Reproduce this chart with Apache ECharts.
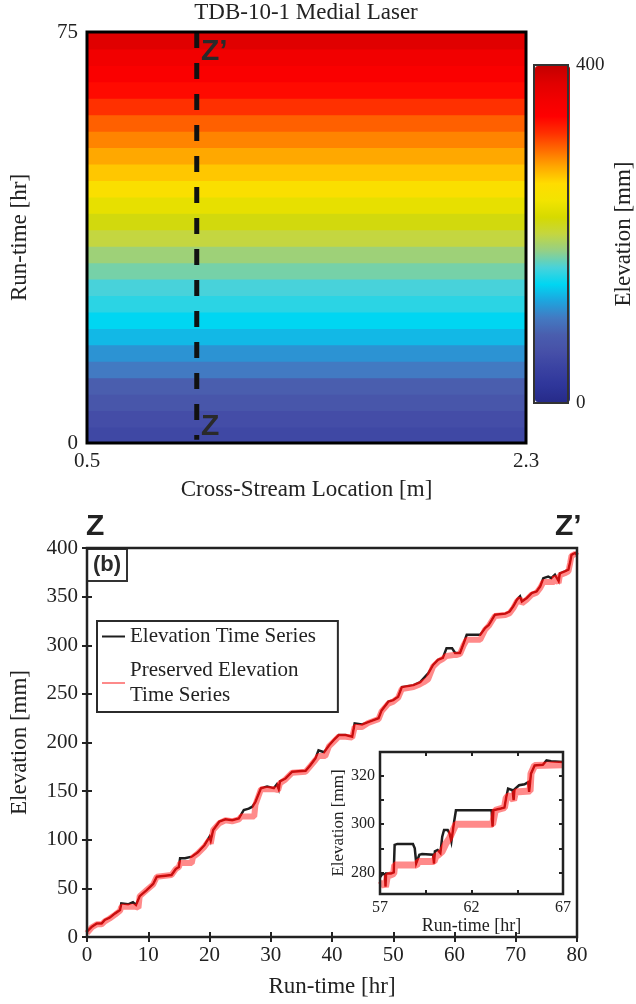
<!DOCTYPE html>
<html><head><meta charset="utf-8">
<script src="https://cdn.jsdelivr.net/npm/echarts@6/dist/echarts.min.js"></script>
<style>html,body{margin:0;padding:0;background:#fff}#c{width:636px;height:1004px}</style>
</head><body><div id="c"></div>
<script>
// ---------- Panel (a): elevation map (rows of run-time) ----------
const crossStreamRange = [0.5, 2.3];
const runTimeRange = [0, 75];
const heatRowStart = [0, 3, 6, 9, 12, 15, 18, 21, 24, 27, 30, 33, 36, 39, 42, 45, 48, 51, 54, 57, 60, 63, 66, 69, 72];
const heatRowElev  = [48, 56, 68, 80, 100, 112, 128, 140, 152, 160, 172, 184, 200, 216, 232, 252, 268, 280, 292, 304, 320, 336, 348, 360, 380];
const profileLocation = 0.95;           // Z - Z' line [m]
const profileTimeSpan = [75, 0.6];      // dashed line from top to near bottom [hr]
const colorbarLabels = [0, 400];

// ---------- Panel (b): elevation time series at Z - Z' ----------
const elevTime = [0, 0.8, 1.6, 2.4, 2.9, 3.7, 4.6, 5.4, 5.6, 6.7, 7.5, 8.0, 8.6, 8.9, 9.7, 10.8, 11.4, 13.8, 14.5, 15.0, 15.2, 16.0, 17.1, 18.1, 19.2, 20.0, 20.2, 20.6, 21.6, 22.6, 23.7, 24.8, 25.6, 26.4, 27.0, 27.5, 28.4, 29.4, 30.5, 31.0, 31.3, 31.5, 32.4, 33.5, 35.7, 36.5, 37.3, 37.8, 38.7, 39.5, 40.3, 41.1, 42.2, 43.3, 43.7, 44.9, 45.9, 47.6, 48.1, 49.2, 50.0, 50.8, 51.4, 53.3, 54.4, 55.7, 56.5, 57.3, 58.1, 58.7, 59.6, 59.85, 60.1, 60.4, 60.9, 61.5, 62.0, 64.2, 64.4, 65.0, 65.6, 66.1, 66.6, 68.3, 69.0, 69.6, 70.2, 70.7, 71.0, 71.8, 72.6, 73.4, 74.0, 74.5, 74.7, 75.3, 75.8, 76.4, 76.7, 77.0, 77.2, 78.0, 78.6, 78.9, 79.1, 79.7, 80];
const elevValue = [5.5, 10.6, 14, 14, 17.5, 19.9, 24.3, 27.8, 34.6, 33.6, 35.7, 33, 42, 43, 48, 54.5, 62, 63.8, 70, 72, 81, 81, 82.6, 87, 94.6, 103, 99, 110, 118.6, 121, 120, 122, 130.6, 132, 134, 139, 153, 154.6, 153, 157, 152, 160, 163, 170, 171, 177, 183.7, 192, 190, 197, 202.6, 207.7, 207.7, 206, 219.7, 218.6, 221, 225, 233, 242, 243.6, 247, 257, 259, 262, 271, 279.7, 285, 287, 297, 297, 296, 292, 290.7, 292, 302, 310.8, 310.8, 309, 317.7, 321, 326, 331.4, 332.5, 334.7, 340, 347, 350.3, 345, 348.6, 353.7, 355.4, 360.6, 369, 370.7, 370.7, 369, 372.6, 374, 366, 374, 376, 377.8, 386, 393, 394.9, 393];
const presTime = [0, 0.8, 1.6, 2.4, 2.9, 3.7, 4.6, 5.4, 5.6, 8.0, 8.4, 8.6, 8.9, 9.7, 10.8, 11.4, 13.8, 14.5, 15.0, 15.2, 17.1, 17.3, 18.1, 19.2, 20.0, 20.2, 20.6, 21.6, 22.6, 23.7, 24.8, 25.2, 27.3, 27.5, 28.4, 29.4, 30.5, 31.2, 31.5, 32.4, 33.5, 35.7, 36.5, 37.3, 37.8, 38.9, 39.5, 40.3, 41.1, 42.2, 43.3, 43.7, 44.9, 45.9, 47.6, 48.1, 49.2, 50.0, 50.8, 51.4, 53.3, 54.4, 55.0, 55.7, 56.5, 57.3, 58.1, 58.7, 59.85, 60.4, 60.9, 61.5, 62.0, 64.2, 64.4, 65.0, 65.6, 66.1, 66.6, 68.3, 69.0, 69.6, 70.2, 70.7, 71.0, 71.8, 72.6, 73.4, 74.0, 74.5, 76.3, 76.4, 76.7, 77.0, 77.2, 78.0, 78.6, 78.9, 79.1, 79.7, 80];
const presValue = [4, 10, 13, 13, 16, 19, 23, 27, 31, 31, 30, 42, 43, 48, 54, 62, 63.8, 70, 72, 76, 76, 82, 86, 93, 100, 96, 110, 117, 120, 119, 121, 124, 124, 136, 152, 152, 152, 151, 158, 162, 169, 170, 176, 182, 186, 186, 196, 201, 206, 206, 205, 216, 216, 220, 224, 232, 240, 242, 246, 255, 257, 260, 262, 265, 278, 283, 286, 289, 290, 290, 291, 300, 305.7, 305.7, 304, 316, 320, 325, 330, 331, 333, 338, 345, 348, 343, 347, 352, 354, 359, 365, 365, 371, 372, 364, 372, 374, 376, 385, 392, 394, 392];

// ---------- Inset (57 - 67 hr) ----------
const insetElevTime = [57.0, 57.15, 57.28, 57.3, 57.33, 57.6, 57.75, 57.8, 57.95, 58.8, 58.9, 58.98, 59.05, 59.15, 59.3, 59.9, 59.95, 60.0, 60.15, 60.3, 60.4, 60.5, 60.7, 60.8, 60.9, 61.05, 61.15, 63.1, 63.15, 63.2, 63.6, 63.8, 63.9, 64.0, 64.25, 64.3, 64.35, 64.6, 64.9, 65.1, 65.15, 65.25, 65.45, 65.9, 66.1, 66.35, 67.0];
const insetElevValue = [278, 279.5, 279, 274, 279.5, 279.5, 280, 291.4, 291.8, 291.8, 290, 283.8, 283, 287.3, 287.6, 287.3, 283.6, 288.7, 289.3, 288, 294.8, 297.6, 297.6, 296.2, 292.8, 301, 305.8, 305.8, 299, 305.8, 306.5, 306.9, 311.3, 314.8, 314.1, 310, 314.5, 316.2, 316.6, 317.5, 313.4, 321, 324.4, 324.7, 326.5, 326.2, 325.8];
const insetPresTime = [57.0, 57.2, 57.3, 57.4, 57.6, 57.75, 57.8, 59.0, 59.1, 59.95, 60.05, 60.2, 60.4, 60.6, 60.8, 61.0, 61.15, 63.15, 63.3, 63.8, 63.9, 64.1, 64.3, 64.4, 65.2, 65.25, 65.45, 67.0];
const insetPresValue = [274.5, 275.6, 274, 278.4, 279, 279.5, 283, 283, 284.5, 284.5, 286.6, 287.3, 288.7, 292, 294.2, 297.6, 300, 300, 305.8, 306.9, 311, 312, 310, 313.4, 313.8, 321, 324.4, 324.7];

const zip = (a, b) => a.map((v, i) => [v, b[i]]);
const heatCells = heatRowStart.map((t, i) => [crossStreamRange[0], crossStreamRange[1], t,
  i + 1 < heatRowStart.length ? heatRowStart[i + 1] : runTimeRange[1], heatRowElev[i]]);

const SERIF = '"Liberation Serif","DejaVu Serif",serif';
const SANS = '"Liberation Sans",Arial,sans-serif';
const INK = '#222';
const jet = ['#262b8a','#2f369a','#3a42a2','#4650a8','#4a5eae','#427ac2','#1ea4de','#00d6f2','#48d2da','#94d086',
             '#c4d640','#d6da00','#f2e400','#ffdc00','#ffa800','#ff6c00','#ff3000','#ff0000','#f20000','#e00000','#c40000'];
const BLACK_LINE = '#1e1e1e';
const PINK_LINE = 'rgba(250,0,0,0.46)';
const RED_GLOW = 'rgba(255,0,0,0.26)';

const chart = echarts.init(document.getElementById('c'), null, {renderer: 'canvas'});
const tickLbl = (size) => ({fontFamily: SERIF, fontSize: size, color: INK});

chart.setOption({
  animation: false,
  backgroundColor: '#fff',
  title: {text: 'TDB-10-1 Medial Laser', left: 306, textAlign: 'center', top: 1, padding: 0,
    textStyle: {fontFamily: SERIF, fontSize: 23, fontWeight: 'normal', color: INK}},
  grid: [
    {left: 86, top: 32, width: 440, height: 411, show: true, z: 10, borderColor: '#000', borderWidth: 3, backgroundColor: 'transparent'},
    {left: 86, top: 548, width: 491, height: 389, show: true, z: 10, borderColor: INK, borderWidth: 2.5, backgroundColor: 'transparent'},
    {left: 380, top: 752, width: 183, height: 142, show: true, z: 10, borderColor: INK, borderWidth: 2.5, backgroundColor: 'transparent'},
    {left: 534, top: 65, width: 37, height: 338, show: true, z: 10, borderColor: '#333', borderWidth: 2, backgroundColor: 'transparent'}
  ],
  xAxis: [
    {gridIndex: 0, type: 'value', min: crossStreamRange[0], max: crossStreamRange[1], splitLine: {show: false},
      axisLine: {show: false}, axisTick: {show: false},
      axisLabel: {customValues: crossStreamRange, margin: 8, ...tickLbl(21)},
      name: 'Cross-Stream Location [m]', nameLocation: 'middle', nameGap: 35,
      nameTextStyle: {fontFamily: SERIF, fontSize: 23, color: INK}},
    {gridIndex: 1, type: 'value', min: 0, max: 80, interval: 10, splitLine: {show: false},
      axisLine: {show: false}, axisTick: {inside: true, length: 5, lineStyle: {color: INK, width: 2}},
      axisLabel: {margin: 8, ...tickLbl(21)},
      name: 'Run-time [hr]', nameLocation: 'middle', nameGap: 38,
      nameTextStyle: {fontFamily: SERIF, fontSize: 23, color: INK}},
    {gridIndex: 1, type: 'value', position: 'top', min: 0, max: 80, interval: 10, splitLine: {show: false},
      axisLine: {show: false}, axisTick: {inside: true, length: 5, lineStyle: {color: INK, width: 2}},
      axisLabel: {show: false}},
    {gridIndex: 2, type: 'value', min: 57, max: 67, splitLine: {show: false},
      axisLine: {show: false}, axisTick: {inside: true, length: 4, customValues: [57, 59.5, 62, 64.5, 67], lineStyle: {color: INK, width: 2}},
      axisLabel: {customValues: [57, 62, 67], margin: 6, ...tickLbl(16)},
      name: 'Run-time [hr]', nameLocation: 'middle', nameGap: 22,
      nameTextStyle: {fontFamily: SERIF, fontSize: 18, color: INK}},
    {gridIndex: 2, type: 'value', position: 'top', min: 57, max: 67, splitLine: {show: false},
      axisLine: {show: false}, axisTick: {inside: true, length: 4, customValues: [57, 59.5, 62, 64.5, 67], lineStyle: {color: INK, width: 2}},
      axisLabel: {show: false}},
    {gridIndex: 3, type: 'value', min: 0, max: 1, show: false}
  ],
  yAxis: [
    {gridIndex: 0, type: 'value', min: runTimeRange[0], max: runTimeRange[1], splitLine: {show: false},
      axisLine: {show: false}, axisTick: {show: false},
      axisLabel: {customValues: runTimeRange, margin: 9, ...tickLbl(21)},
      name: 'Run-time [hr]', nameLocation: 'middle', nameGap: 56,
      nameTextStyle: {fontFamily: SERIF, fontSize: 23, color: INK}},
    {gridIndex: 1, type: 'value', min: 0, max: 400, interval: 50, splitLine: {show: false},
      axisLine: {show: false}, axisTick: {inside: true, length: 5, lineStyle: {color: INK, width: 2}},
      axisLabel: {margin: 9, ...tickLbl(21)},
      name: 'Elevation [mm]', nameLocation: 'middle', nameGap: 56,
      nameTextStyle: {fontFamily: SERIF, fontSize: 23, color: INK}},
    {gridIndex: 1, type: 'value', position: 'right', min: 0, max: 400, interval: 50, splitLine: {show: false},
      axisLine: {show: false}, axisTick: {inside: true, length: 5, lineStyle: {color: INK, width: 2}},
      axisLabel: {show: false}},
    {gridIndex: 2, type: 'value', min: 271, max: 330, splitLine: {show: false},
      axisLine: {show: false}, axisTick: {inside: true, length: 4, customValues: [280, 290, 300, 310, 320], lineStyle: {color: INK, width: 2}},
      axisLabel: {customValues: [280, 300, 320], margin: 5, ...tickLbl(16)},
      name: 'Elevation [mm]', nameLocation: 'middle', nameGap: 31,
      nameTextStyle: {fontFamily: SERIF, fontSize: 17, color: INK}},
    {gridIndex: 2, type: 'value', position: 'right', min: 271, max: 330, splitLine: {show: false},
      axisLine: {show: false}, axisTick: {inside: true, length: 4, customValues: [280, 290, 300, 310, 320], lineStyle: {color: INK, width: 2}},
      axisLabel: {show: false}},
    {gridIndex: 3, type: 'value', position: 'right', min: colorbarLabels[0], max: colorbarLabels[1], splitLine: {show: false},
      axisLine: {show: false}, axisTick: {show: false},
      axisLabel: {customValues: colorbarLabels, margin: 8, ...tickLbl(19)},
      name: 'Elevation [mm]', nameLocation: 'middle', nameGap: 44, nameRotate: 90,
      nameTextStyle: {fontFamily: SERIF, fontSize: 23, color: INK}}
  ],
  visualMap: {
    type: 'continuous', min: colorbarLabels[0], max: colorbarLabels[1], dimension: 4, seriesIndex: 0,
    calculable: false, show: true, left: 535, top: 66, itemWidth: 35, itemHeight: 336, padding: 0,
    textStyle: {fontSize: 0}, inRange: {color: jet}
  },
  legend: {
    data: ['Elevation Time Series', 'Preserved Elevation Time Series'],
    formatter: n => n === 'Preserved Elevation Time Series' ? 'Preserved Elevation\nTime Series' : n,
    orient: 'vertical', left: 97, top: 621, padding: [3, 22, 4, 4], itemGap: 9,
    itemWidth: 23, itemHeight: 8, borderColor: '#2b2b2b', borderWidth: 2, backgroundColor: '#fff',
    selectedMode: false, itemStyle: {opacity: 0},
    textStyle: {fontFamily: SERIF, fontSize: 21, color: INK, lineHeight: 25}
  },
  series: [
    {type: 'custom', xAxisIndex: 0, yAxisIndex: 0, data: heatCells, encode: {x: [0, 1], y: [2, 3]},
      renderItem: (params, api) => {
        const p0 = api.coord([api.value(0), api.value(3)]);
        const p1 = api.coord([api.value(1), api.value(2)]);
        return {type: 'rect', shape: {x: p0[0], y: p0[1], width: p1[0] - p0[0], height: p1[1] - p0[1] + 1},
          style: {fill: api.visual('color')}};
      }},
    {type: 'line', xAxisIndex: 0, yAxisIndex: 0, symbol: 'none', silent: true,
      data: profileTimeSpan.map(t => [profileLocation, t]),
      lineStyle: {color: '#111', width: 5, type: [16, 15]}},
    {name: 'Elevation Time Series', type: 'line', xAxisIndex: 1, yAxisIndex: 1, symbol: 'none',
      data: zip(elevTime, elevValue), itemStyle: {color: BLACK_LINE}, lineStyle: {color: BLACK_LINE, width: 2.5, join: 'miter'}},
    {name: 'Preserved Elevation Time Series', type: 'line', xAxisIndex: 1, yAxisIndex: 1, symbol: 'none',
      data: zip(presTime, presValue), itemStyle: {color: PINK_LINE}, lineStyle: {color: PINK_LINE, width: 6}},
    {type: 'line', xAxisIndex: 1, yAxisIndex: 1, symbol: 'none', silent: true, blendMode: 'lighter',
      data: zip(presTime, presValue), lineStyle: {color: RED_GLOW, width: 6}},
    {name: 'Elevation Time Series', type: 'line', xAxisIndex: 3, yAxisIndex: 3, symbol: 'none',
      data: zip(insetElevTime, insetElevValue), itemStyle: {color: BLACK_LINE}, lineStyle: {color: BLACK_LINE, width: 2.5, join: 'miter'}},
    {name: 'Preserved Elevation Time Series', type: 'line', xAxisIndex: 3, yAxisIndex: 3, symbol: 'none',
      data: zip(insetPresTime, insetPresValue), itemStyle: {color: PINK_LINE}, lineStyle: {color: PINK_LINE, width: 7}},
    {type: 'line', xAxisIndex: 3, yAxisIndex: 3, symbol: 'none', silent: true, blendMode: 'lighter',
      data: zip(insetPresTime, insetPresValue), lineStyle: {color: RED_GLOW, width: 7}}
  ],
  graphic: [
    {type: 'group', left: 86, top: 32, z: 20, children: [
      {type: 'rect', shape: {x: 1, y: 1, width: 40, height: 32}, style: {fill: '#fff', stroke: '#333', lineWidth: 2}},
      {type: 'text', x: 21, y: 17, style: {text: '(a)', font: 'bold 22px ' + SANS, fill: '#2a2a2a', align: 'center', verticalAlign: 'middle'}}
    ]},
    {type: 'group', left: 86, top: 548, z: 20, children: [
      {type: 'rect', shape: {x: 1, y: 1, width: 40, height: 32}, style: {fill: '#fff', stroke: '#333', lineWidth: 2}},
      {type: 'text', x: 21, y: 17, style: {text: '(b)', font: 'bold 22px ' + SANS, fill: '#2a2a2a', align: 'center', verticalAlign: 'middle'}}
    ]},
    {type: 'text', left: 201, top: 37, z: 20, style: {text: 'Z\u2019', font: 'bold 30px ' + SANS, fill: '#2a2a2a'}},
    {type: 'text', left: 201, top: 412, z: 20, style: {text: 'Z', font: 'bold 30px ' + SANS, fill: '#2a2a2a'}},
    {type: 'text', left: 86, top: 512, z: 20, style: {text: 'Z', font: 'bold 30px ' + SANS, fill: '#222'}},
    {type: 'text', left: 555, top: 512, z: 20, style: {text: 'Z\u2019', font: 'bold 30px ' + SANS, fill: '#222'}}
  ]
});
</script></body></html>
